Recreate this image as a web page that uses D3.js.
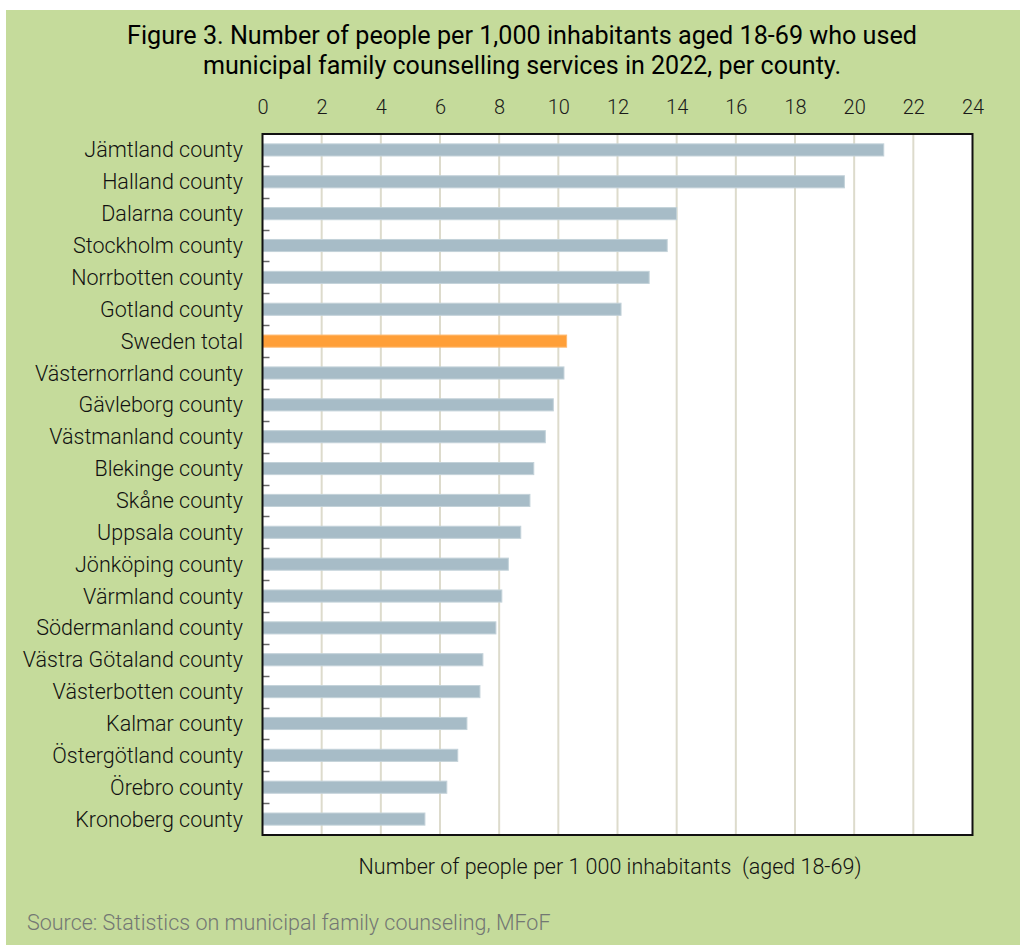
<!DOCTYPE html>
<html>
<head>
<meta charset="utf-8">
<script src="https://cdn.jsdelivr.net/npm/d3@7/dist/d3.min.js"></script>
<style>
  html, body { margin: 0; padding: 0; background: #ffffff; }
  svg { display: block; }
  text { font-family: Roboto, "Noto Sans", sans-serif; }
</style>
</head>
<body>
<svg id="chart" width="1020" height="945"></svg>
<script>
// Counties, ordered as drawn (top to bottom)
const counties = [
  "Jämtland county", "Halland county", "Dalarna county", "Stockholm county",
  "Norrbotten county", "Gotland county", "Sweden total", "Västernorrland county",
  "Gävleborg county", "Västmanland county", "Blekinge county", "Skåne county",
  "Uppsala county", "Jönköping county", "Värmland county", "Södermanland county",
  "Västra Götaland county", "Västerbotten county", "Kalmar county",
  "Östergötland county", "Örebro county", "Kronoberg county"
];

// People per 1,000 inhabitants aged 18-69
const usersPer1000 = [
  21.0, 19.67, 14.0, 13.68, 13.07, 12.12, 10.28, 10.19,
  9.83, 9.56, 9.17, 9.04, 8.73, 8.31, 8.09, 7.89,
  7.45, 7.35, 6.91, 6.6, 6.23, 5.49
];

const xTicks = [0, 2, 4, 6, 8, 10, 12, 14, 16, 18, 20, 22, 24];

const titleLines = [
  "Figure 3. Number of people per 1,000 inhabitants aged 18-69 who used",
  "municipal family counselling services in 2022, per county."
];
const axisTitle = "Number of people per 1 000 inhabitants  (aged 18-69)";
const sourceNote = "Source: Statistics on municipal family counseling, MFoF";

const totalLabel = "Sweden total";

const svg = d3.select("#chart");

// Panel background
svg.append("rect")
  .attr("x", 6).attr("y", 10)
  .attr("width", 1014).attr("height", 935)
  .attr("fill", "#c5db9b");

const plot = { left: 262.5, right: 972.5, top: 134, bottom: 835 };

const x = d3.scaleLinear().domain([0, 24]).range([plot.left, plot.right]);
const y = d3.scaleBand().domain(counties).range([plot.top, plot.bottom]).paddingInner(0.62).paddingOuter(0.31);
const yOuter = d3.scaleBand().domain(counties).range([plot.top, plot.bottom]);

// Plot area
svg.append("rect")
  .attr("x", plot.left).attr("y", plot.top)
  .attr("width", plot.right - plot.left).attr("height", plot.bottom - plot.top)
  .attr("fill", "#ffffff");

// Vertical gridlines
svg.append("g")
  .selectAll("line")
  .data(xTicks.filter(t => t > 0 && t < 24))
  .join("line")
  .attr("x1", d => x(d)).attr("x2", d => x(d))
  .attr("y1", plot.top).attr("y2", plot.bottom)
  .attr("stroke", "#dddbcc").attr("stroke-width", 2);

// Bars
svg.append("g")
  .selectAll("rect")
  .data(counties)
  .join("rect")
  .attr("x", x(0))
  .attr("y", d => y(d))
  .attr("width", (d, i) => x(usersPer1000[i]) - x(0))
  .attr("height", y.bandwidth())
  .attr("fill", d => d === totalLabel ? "#ff9f38" : "#a7bcc7")
  .attr("stroke", d => d === totalLabel ? "#ffb970" : "#c3d2d9")
  .attr("stroke-width", 1);

// Category boundary ticks on the left axis
svg.append("g")
  .selectAll("line")
  .data(counties.slice(1))
  .join("line")
  .attr("x1", plot.left).attr("x2", plot.left + 7)
  .attr("y1", d => Math.round(yOuter(d)) + 0.5)
  .attr("y2", d => Math.round(yOuter(d)) + 0.5)
  .attr("stroke", "#666666").attr("stroke-width", 1.5);

// Frame
svg.append("rect")
  .attr("x", plot.left).attr("y", plot.top)
  .attr("width", plot.right - plot.left).attr("height", plot.bottom - plot.top)
  .attr("fill", "none").attr("stroke", "#111111").attr("stroke-width", 2);

// Top axis tick labels
const xAxis = d3.axisTop(x).tickValues(xTicks).tickSize(0).tickPadding(0).tickFormat(d3.format("d"));
const gx = svg.append("g").attr("transform", `translate(0, 114)`).call(xAxis);
gx.select(".domain").remove();
gx.selectAll("text")
  .attr("dy", 0)
  .attr("font-size", 20)
  .attr("font-weight", 300)
  .attr("fill", "#1a1a1a")
  .style("font-family", "Roboto, sans-serif");

// Category labels
const yAxis = d3.axisLeft(yOuter).tickSize(0).tickPadding(0);
const gy = svg.append("g").attr("transform", `translate(243, 0)`).call(yAxis);
gy.select(".domain").remove();
gy.selectAll("text")
  .attr("dy", "0.35em")
  .attr("font-size", 21.5)
  .attr("font-weight", 300)
  .attr("fill", "#111111")
  .style("font-family", "Roboto, sans-serif");

// Title, fitted to its line widths
const titleWidths = [790, 638];
svg.append("g")
  .selectAll("text")
  .data(titleLines)
  .join("text")
  .attr("x", 522)
  .attr("y", (d, i) => 44 + i * 30)
  .attr("text-anchor", "middle")
  .attr("font-size", 25)
  .attr("fill", "#000000")
  .attr("textLength", (d, i) => titleWidths[i])
  .attr("lengthAdjust", "spacingAndGlyphs")
  .text(d => d);

// Axis title
svg.append("text")
  .attr("x", 610).attr("y", 874)
  .attr("text-anchor", "middle")
  .attr("font-size", 21.5)
  .attr("font-weight", 300)
  .attr("fill", "#111111")
  .style("white-space", "pre")
  .text(axisTitle);

// Source note
svg.append("text")
  .attr("x", 27).attr("y", 930)
  .attr("font-size", 21.5)
  .attr("font-weight", 300)
  .attr("fill", "#737773")
  .text(sourceNote);
</script>
</body>
</html>
